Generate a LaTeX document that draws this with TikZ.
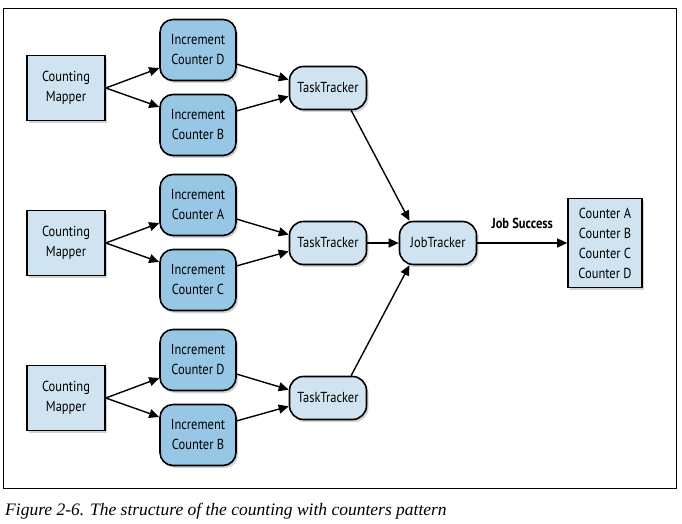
\documentclass[tikz,border=0pt]{standalone}
\usepackage{fontspec}
\setmainfont{Liberation Serif}
\newfontfamily\boxfont[FakeStretch=0.86]{PT Sans}
\usepackage{tikz}
\usetikzlibrary{positioning, shadows, arrows.meta}

\definecolor{lightblue}{RGB}{207,227,241}
\definecolor{midblue}{RGB}{152,199,230}

\tikzset{
    base/.style={draw=black, line width=1.6pt, align=center, font=\boxfont\fontsize{14.5}{20}\selectfont,
        drop shadow={shadow xshift=2pt, shadow yshift=-2.5pt, opacity=0.35}},
    mapper/.style={base, rectangle, fill=lightblue, minimum width=78pt, minimum height=65pt},
    incr/.style={base, rectangle, rounded corners=13pt, fill=midblue, minimum width=76pt, minimum height=61pt},
    tracker/.style={base, rectangle, rounded corners=14pt, fill=lightblue, minimum width=77pt, minimum height=43pt},
    result/.style={base, rectangle, fill=lightblue, minimum width=74pt, minimum height=89pt},
    flow/.style={-{Triangle[length=10pt, width=9pt]}, line width=1.4pt}
}

\begin{document}
\begin{tikzpicture}[x=1pt, y=1pt, on grid]
        \useasboundingbox (0,0) rectangle (682,523);
        % outer frame
        \draw[line width=0.8pt] (3,35) rectangle (676,515);

        % mappers
        \node[mapper] (m1) at (66,435) {Counting\\Mapper};
        \node[mapper] (m2) at (66,280) {Counting\\Mapper};
        \node[mapper] (m3) at (66,125) {Counting\\Mapper};

        % increments
        \node[incr] (incD1) [above right=38pt and 132pt of m1] {Increment\\Counter D};
        \node[incr] (incB1) [below right=37pt and 132pt of m1] {Increment\\Counter B};
        \node[incr] (incA2) [above right=38pt and 132pt of m2] {Increment\\Counter A};
        \node[incr] (incC2) [below right=37pt and 132pt of m2] {Increment\\Counter C};
        \node[incr] (incD3) [above right=38pt and 132pt of m3] {Increment\\Counter D};
        \node[incr] (incB3) [below right=37pt and 132pt of m3] {Increment\\Counter B};

        % task trackers
        \node[tracker] (tt1) [right=262pt of m1] {TaskTracker};
        \node[tracker] (tt2) [right=262pt of m2] {TaskTracker};
        \node[tracker] (tt3) [right=262pt of m3] {TaskTracker};

        % job tracker and counters
        \node[tracker] (jt) [right=110pt of tt2] {JobTracker};
        \node[result] (ctr) [right=167pt of jt] {Counter A\\Counter B\\Counter C\\Counter D};

        % mapper to increments
        \draw[flow] (m1.east) -- (incD1.205);
        \draw[flow] (m1.east) -- (incB1.155);
        \draw[flow] (m2.east) -- (incA2.205);
        \draw[flow] (m2.east) -- (incC2.155);
        \draw[flow] (m3.east) -- (incD3.205);
        \draw[flow] (m3.east) -- (incB3.155);

        % increments to task trackers
        \draw[flow] (incD1.-20) -- (tt1.168);
        \draw[flow] (incB1.20) -- (tt1.192);
        \draw[flow] (incA2.-20) -- (tt2.168);
        \draw[flow] (incC2.20) -- (tt2.192);
        \draw[flow] (incD3.-20) -- (tt3.168);
        \draw[flow] (incB3.20) -- (tt3.192);

        % task trackers to job tracker
        \draw[flow] (tt1.-44) -- (jt.142);
        \draw[flow] (tt2.east) -- (jt.west);
        \draw[flow] (tt3.44) -- (jt.218);
        \draw[flow] (jt.east) -- node[above=10pt, font=\boxfont\fontsize{14.5}{17}\selectfont\bfseries] {Job Success} (ctr.west);

        % caption
        \node[anchor=base west, inner sep=0pt, font=\fontsize{17.5}{20}\selectfont\itshape] (cap) at (5,8)
            {Figure 2-6. The structure of the counting with counters pattern};
\end{tikzpicture}
\end{document}
